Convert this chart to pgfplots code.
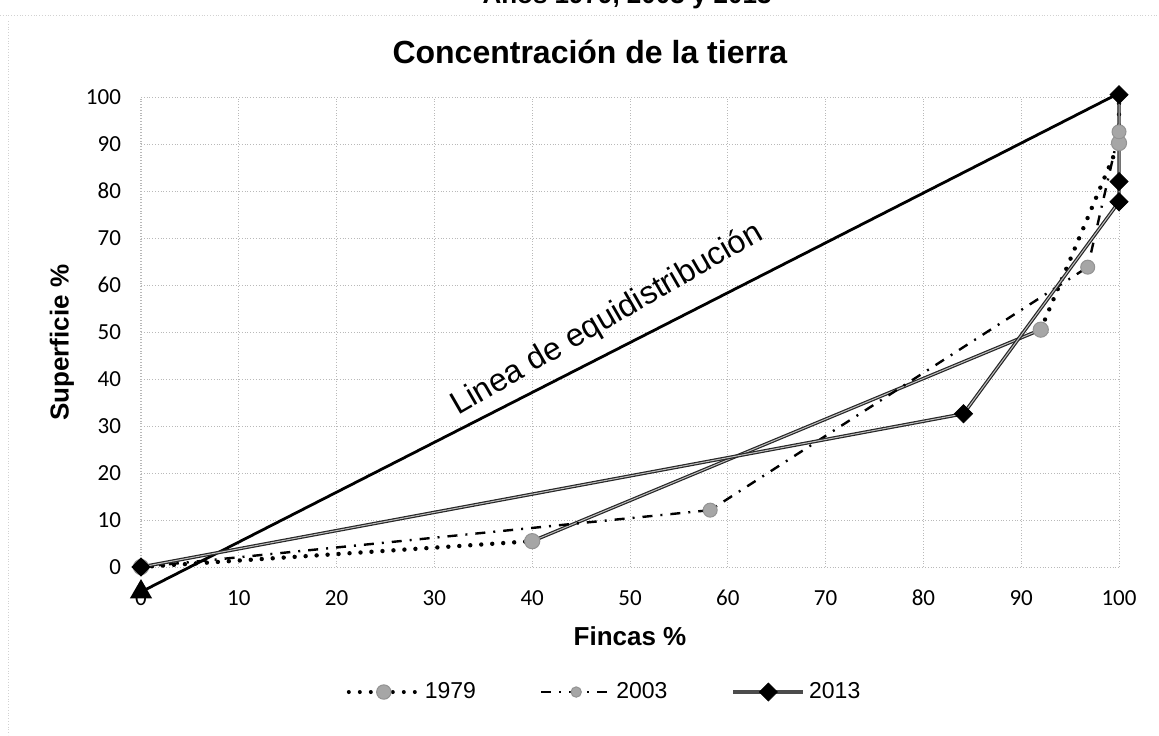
\documentclass[border=0pt]{standalone}
\usepackage{pgfplots}
\pgfplotsset{compat=1.18}
\usepackage{fontspec}
\setmainfont{Liberation Sans}
\newfontfamily\calibri{Carlito}

\begin{document}
\begin{tikzpicture}
\begin{axis}[
  at={(0pt,0pt)}, anchor=south west,
  scale only axis, width=489pt, height=235pt,
  xmin=0, xmax=100, ymin=0, ymax=100,
  xtick={0,10,...,100}, ytick={0,10,...,100},
  grid=major, grid style={densely dotted, gray!55, line width=0.5pt},
  axis line style={draw=none},
  major tick length=0pt,
  clip=false,
  /pgf/number format/assume math mode=true,
  ticklabel style={font=\calibri\fontsize{11.5}{13}\selectfont},
  xticklabel style={yshift=-8pt},
  yticklabel style={xshift=-6.5pt},
  xlabel={Fincas \%}, ylabel={Superficie \%},
  xlabel style={at={(axis description cs:0.5,-0.1468)}, anchor=center, font=\bfseries\fontsize{13}{15}\selectfont},
  ylabel style={at={(axis description cs:-0.0808,0.477)}, anchor=center, font=\bfseries\fontsize{13}{15}\selectfont},
  title={Concentración de la tierra},
  title style={at={(axis description cs:0.459,1.0705)}, anchor=center, yshift=0pt, font=\bfseries\fontsize{16}{18}\selectfont},
  legend columns=3,
  legend style={draw=none, fill=none, at={(axis description cs:0.475,-0.266)}, anchor=center,
    font=\fontsize{11.5}{13}\selectfont, /tikz/every even column/.append style={column sep=30pt}},
  legend image code/.code={\draw[mark repeat=2,mark phase=2,#1] plot coordinates {(0pt,0pt) (17.5pt,0pt) (35pt,0pt)};},
]
% legend entries
\addlegendimage{black, line width=2pt, dash pattern=on 0pt off 5.5pt, line cap=round, mark=*, mark size=3.6pt, mark options={solid, fill=gray!70, draw=gray!85, line width=0.5pt}}
\addlegendentry{1979}
\addlegendimage{black, line width=1.2pt, dash pattern=on 5pt off 4pt on 1pt off 4pt, mark=*, mark size=2.6pt, mark options={solid, fill=gray!70, draw=gray!85, line width=0.5pt}}
\addlegendentry{2003}
\addlegendimage{gray!60!black, line width=1.8pt, mark=square*, mark size=3.2pt, mark options={solid, rotate=45, fill=black, draw=black, line width=0.3pt}}
\addlegendentry{2013}

% equidistribution line
\addplot[black, line width=1.4pt, mark=triangle*, mark indices={1}, mark size=5pt, mark options={fill=black}, forget plot] coordinates {(0,-5.3) (100,100.8)};
\node[anchor=base west, rotate=30, font=\fontsize{16}{18}\selectfont, inner sep=0pt] at (axis cs:32.4,32.2) {Linea de equidistribución};

% 1979 (dotted parts)
\addplot[black, line width=2.2pt, dash pattern=on 0pt off 5.5pt, line cap=round, forget plot] coordinates {(0,0) (40,5.5)};
\addplot[black, line width=2.2pt, dash pattern=on 0pt off 5.5pt, line cap=round, forget plot] coordinates {(92,50.5) (100,90.2) (100,100)};
% 1979 (solid segment)
\addplot[black!85, line width=1.7pt, forget plot] coordinates {(40,5.5) (92,50.5)};
\addplot[gray!50, line width=0.5pt, forget plot] coordinates {(40,5.5) (92,50.5)};

% 2003
\addplot[black, line width=1.2pt, dash pattern=on 5pt off 4pt on 1pt off 4pt, forget plot] coordinates {(0,0) (58.2,12.1) (96.8,63.8) (100,92.6) (100,100)};

% 2013
\addplot[black!85, line width=1.7pt, forget plot] coordinates {(0,0) (84.1,32.6) (100,77.7) (100,82) (100,100.5)};
\addplot[gray!50, line width=0.5pt, forget plot] coordinates {(0,0) (84.1,32.6) (100,77.7) (100,82) (100,100.5)};

% markers 1979 and 2003
\addplot[only marks, mark=*, mark size=3.8pt, mark options={fill=gray!70, draw=gray!85, line width=0.5pt}, forget plot] coordinates {(0,0) (40,5.5) (92,50.5) (100,90.2)};
\addplot[only marks, mark=*, mark size=3.5pt, mark options={fill=gray!70, draw=gray!85, line width=0.5pt}, forget plot] coordinates {(0,0) (58.2,12.1) (96.8,63.8) (100,92.6)};
% markers 2013
\addplot[only marks, mark=square*, mark size=3.2pt, mark options={rotate=45, fill=black, draw=black}, forget plot] coordinates {(0,0) (84.1,32.6) (100,77.7) (100,82) (100,100.5)};
\end{axis}
% faint scan frame
\draw[gray!35, densely dotted, line width=0.4pt] (-70.5pt,276pt) -- (509pt,276pt);
\draw[gray!35, densely dotted, line width=0.4pt] (-66.5pt,273pt) -- (-66.5pt,-84pt);
% cut-off heading above the chart
\node[anchor=base east, font=\bfseries\fontsize{13}{15}\selectfont, inner sep=0pt] at (315.5pt,281.5pt) {Años 1979, 2003 y 2013};
\pgfresetboundingbox
\useasboundingbox (-70.5pt,-84pt) rectangle (509pt,283.5pt);
\end{tikzpicture}
\end{document}
